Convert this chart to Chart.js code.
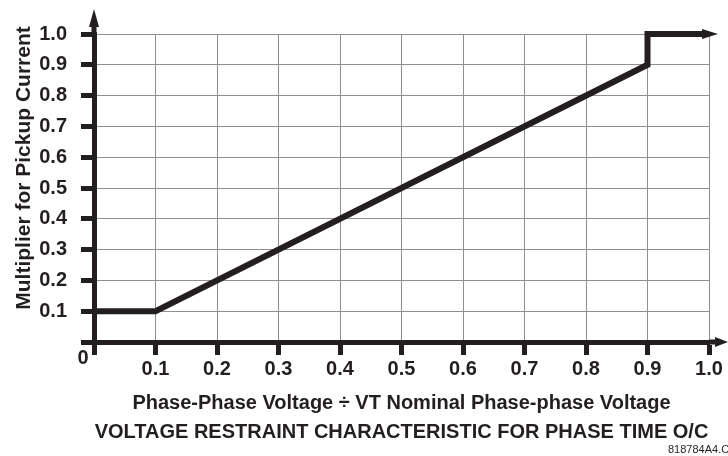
<!DOCTYPE html>
<html>
<head>
<meta charset="utf-8">
<script src="https://cdn.jsdelivr.net/npm/chart.js@4.4.1/dist/chart.umd.min.js"></script>
<style>
  body { margin: 0; background: #fff; }
  #wrap { width: 728px; height: 456px; }
</style>
</head>
<body>
<div id="wrap"><canvas id="myChart" width="728" height="456"></canvas></div>
<script>
// characteristic: voltage ratio -> pickup multiplier
const voltageRatio = [0, 0.1, 0.9, 0.9, 1.0];
const multiplier = [0.1, 0.1, 0.9, 1.0, 1.0];
const tickLabels = ['0', '0.1', '0.2', '0.3', '0.4', '0.5', '0.6', '0.7', '0.8', '0.9', '1.0'];
const xTitle = ['Phase-Phase Voltage \u00f7 VT Nominal Phase-phase Voltage',
  'VOLTAGE RESTRAINT CHARACTERISTIC FOR PHASE TIME O/C'];
const yTitle = 'Multiplier for Pickup Current';
const drawingNo = '818784A4.CDR';

const ink = '#231f20';
const fam = "'Liberation Sans', Arial, Helvetica, sans-serif";

// axis arrows, the extra "0", rotated y title, drawing number
const extras = {
  id: 'extras',
  afterDraw(chart) {
    const ctx = chart.ctx;
    const area = chart.chartArea;
    const x0 = chart.scales.x.getPixelForValue(0);
    const y0 = chart.scales.y.getPixelForValue(0);
    ctx.save();
    ctx.fillStyle = ink;
    ctx.strokeStyle = ink;
    ctx.lineWidth = 5;

    // y axis up to arrow
    ctx.beginPath();
    ctx.moveTo(x0, area.top);
    ctx.lineTo(x0, 24);
    ctx.stroke();
    ctx.beginPath();
    ctx.moveTo(x0, 9);
    ctx.lineTo(x0 - 5, 27);
    ctx.lineTo(x0 + 5, 27);
    ctx.closePath();
    ctx.fill();

    // x axis to arrow
    ctx.beginPath();
    ctx.moveTo(area.right, y0);
    ctx.lineTo(718, y0);
    ctx.stroke();
    ctx.beginPath();
    ctx.moveTo(728, y0);
    ctx.lineTo(715, y0 - 5);
    ctx.lineTo(715, y0 + 5);
    ctx.closePath();
    ctx.fill();

    // arrow on end of the characteristic
    const pts = chart.getDatasetMeta(0).data;
    const a = pts[pts.length - 2], b = pts[pts.length - 1];
    const ang = Math.atan2(b.y - a.y, b.x - a.x);
    ctx.translate(b.x, b.y);
    ctx.rotate(ang);
    ctx.beginPath();
    ctx.moveTo(9, 0);
    ctx.lineTo(-7, -5);
    ctx.lineTo(-7, 5);
    ctx.closePath();
    ctx.fill();
    ctx.setTransform(1, 0, 0, 1, 0, 0);

    // origin label
    ctx.font = 'bold 20px ' + fam;
    ctx.textAlign = 'center';
    ctx.textBaseline = 'middle';
    ctx.fillText(tickLabels[0], x0 - 11, y0 + 16);

    // y title
    ctx.save();
    ctx.translate(24, 168);
    ctx.rotate(-Math.PI / 2);
    ctx.font = 'bold 21px ' + fam;
    ctx.fillText(yTitle, 0, 0);
    ctx.restore();

    // drawing number
    ctx.font = '11px ' + fam;
    ctx.textAlign = 'left';
    ctx.fillText(drawingNo, 668, 450);
    ctx.restore();
  }
};

const gridOpts = {
  color: '#8f8f8f',
  lineWidth: 1,
  tickLength: 13,
  tickWidth: 5,
  tickColor: ink
};

new Chart(document.getElementById('myChart'), {
  type: 'line',
  data: {
    datasets: [{
      data: voltageRatio.map((v, i) => ({x: v, y: multiplier[i]})),
      borderColor: ink,
      borderWidth: 6,
      borderJoinStyle: 'miter',
      pointRadius: 0,
      fill: false,
      tension: 0,
      clip: false
    }]
  },
  options: {
    responsive: false,
    animation: false,
    layout: { padding: { left: 0, top: 34, right: 19, bottom: 0 } },
    plugins: { legend: { display: false }, tooltip: { enabled: false } },
    scales: {
      x: {
        type: 'linear',
        min: 0,
        max: 1,
        afterFit(scale) { scale.height = 114; },
        border: { display: true, color: ink, width: 5 },
        grid: gridOpts,
        ticks: {
          stepSize: 0.1,
          padding: 2,
          color: ink,
          font: { family: fam, size: 20, weight: 'bold' },
          maxRotation: 0,
          callback: (v, i) => i === 0 ? '' : tickLabels[i]
        },
        title: {
          display: true,
          text: xTitle,
          color: ink,
          font: { family: fam, size: 20, weight: 'bold', lineHeight: '29px' },
          padding: { top: 0, bottom: 9 }
        }
      },
      y: {
        min: 0,
        max: 1,
        afterFit(scale) { scale.width = 94; },
        border: { display: true, color: ink, width: 5 },
        grid: gridOpts,
        ticks: {
          stepSize: 0.1,
          padding: 14,
          color: ink,
          font: { family: fam, size: 20, weight: 'bold' },
          callback: (v, i) => i === 0 ? '' : tickLabels[i]
        }
      }
    }
  },
  plugins: [extras]
});
</script>
</body>
</html>
